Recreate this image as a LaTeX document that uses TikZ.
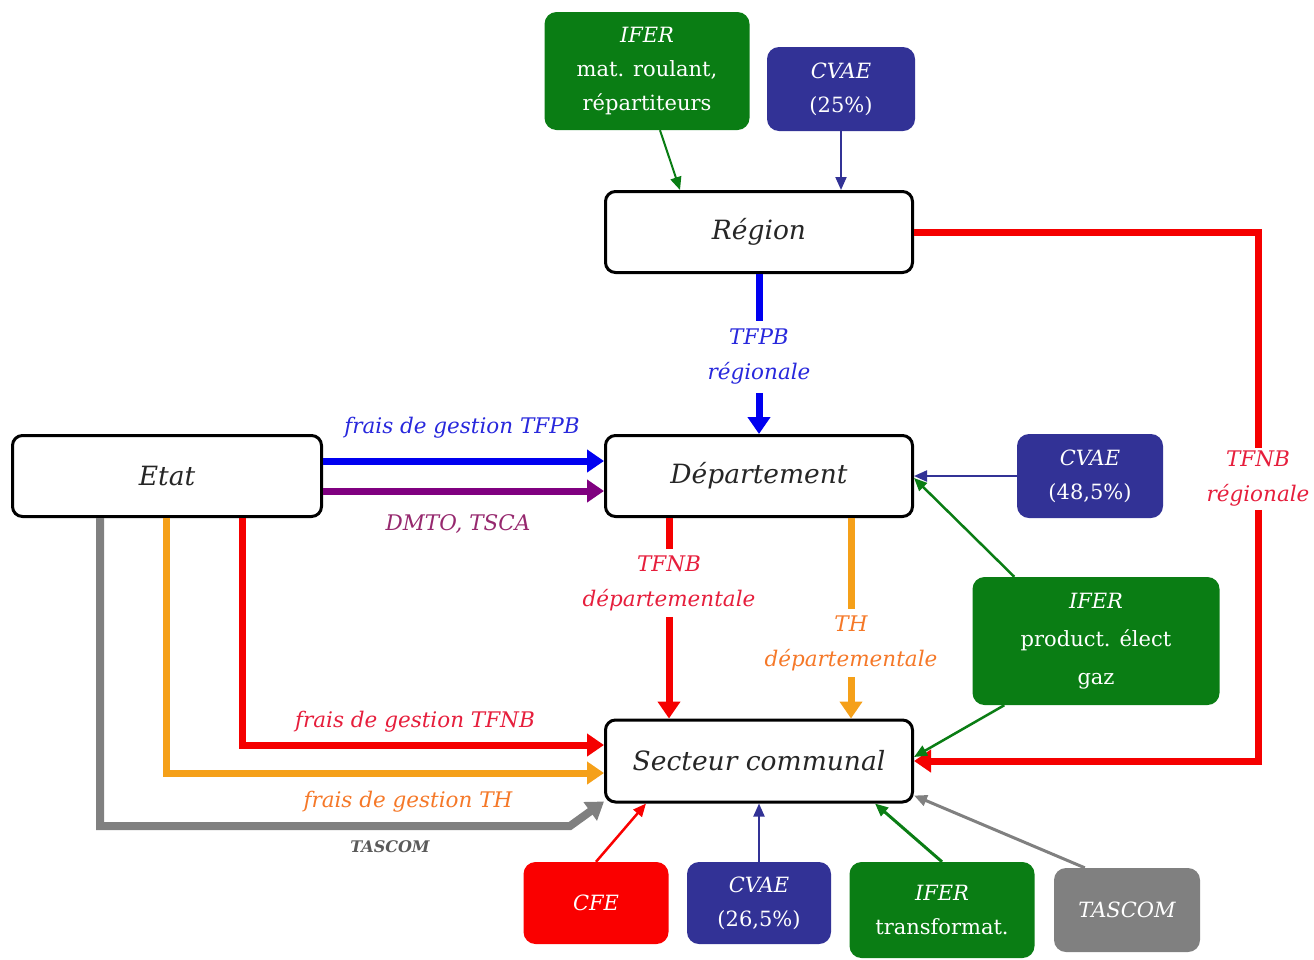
\documentclass[tikz,border=0pt]{standalone}
\usepackage{fontspec}
\setmainfont{DejaVu Serif}
\usepackage{tikz}
\usetikzlibrary{arrows.meta}
\usetikzlibrary{positioning}
\usepackage{color}
\definecolor{ifergreen}{RGB}{10, 125, 20}
\definecolor{cvaeblue}{RGB}{50, 50, 150}
\definecolor{cferred}{RGB}{250, 0, 0}
\definecolor{tascgrey}{RGB}{128, 128, 128}
\definecolor{tfpbblue}{RGB}{0, 0, 240}
\definecolor{dmtopurple}{RGB}{128, 0, 128}
\definecolor{tfnbred}{RGB}{245, 0, 0}
\definecolor{thorange}{RGB}{245, 160, 25}
\definecolor{tfpbtext}{RGB}{40, 40, 220}
\definecolor{dmtotext}{RGB}{150, 40, 110}
\definecolor{tfnbtext}{RGB}{230, 30, 60}
\definecolor{thtext}{RGB}{245, 120, 40}
\definecolor{tasctext}{RGB}{90, 90, 90}

\tikzset{
  mainbox/.style={draw=black, line width=3pt, rounded corners=10pt, fill=white,
    minimum width=307pt, minimum height=81pt, text={black!85},
    font=\fontsize{26.5}{30}\selectfont\itshape},
  srcbox/.style={rounded corners=12pt, text=white, align=center, inner sep=0pt,
    font=\fontsize{21}{34}\selectfont},
  bigline/.style={line width=7pt},
  bigarrow/.style={line width=7pt, -{Triangle[length=17pt,width=22pt]}},
  thinarrow/.style={line width=2pt, -{Triangle[length=13pt,width=11pt]}},
  flowlabel/.style={align=center, inner sep=6pt, font=\fontsize{21.5}{35}\selectfont\itshape},
}

\begin{document}
\begin{tikzpicture}[x=1pt,y=-1pt]
\useasboundingbox (0,0) rectangle (1314,959);
% collectivites
\node[mainbox]                                  (region) at (759,232) {Région};
\node[mainbox]                                  (dep)    at (759,476) {Département};
\node[mainbox, minimum width=309pt]             (etat)   at (167,476) {Etat};
\node[mainbox, minimum height=82pt]             (sect)   at (759,761) {Secteur communal};
% impots
\node[srcbox, fill=ifergreen, minimum width=205pt, minimum height=118pt] (ifermat)  at (647,71)  {\textit{IFER}\\mat. roulant,\\répartiteurs};
\node[srcbox, fill=cvaeblue,  minimum width=148pt, minimum height=84pt]  (cvaereg)  at (841,89)  {\itshape CVAE\\(25\%)};
\node[srcbox, fill=cvaeblue,  minimum width=146pt, minimum height=84pt]  (cvaedep)  at (1090,476) {\itshape CVAE\\(48,5\%)};
\node[srcbox, fill=ifergreen, minimum width=247pt, minimum height=128pt, font=\fontsize{21}{38}\selectfont] (iferprod) at (1096,641) {\textit{IFER}\\product. élect\\gaz};
\node[srcbox, fill=cferred,   minimum width=145pt, minimum height=82pt]  (cfe)      at (596,903) {\itshape CFE};
\node[srcbox, fill=cvaeblue,  minimum width=144pt, minimum height=82pt]  (cvaecom)  at (759,903) {\itshape CVAE\\(26,5\%)};
\node[srcbox, fill=ifergreen, minimum width=185pt, minimum height=96pt]  (ifertrans) at (942,910) {\textit{IFER}\\transformat.};
\node[srcbox, fill=tascgrey,  minimum width=146pt, minimum height=84pt]  (tascbox)  at (1127,910) {\itshape TASCOM};

% etiquettes des flux
\node[flowlabel, text=tfpbtext, inner sep=8pt] (tfpbreg) at (759,357)  {TFPB\\régionale};
\node[flowlabel, text=tfnbtext, inner sep=3pt] (tfnbreg) at (1258,479) {TFNB\\régionale};
\node[flowlabel, text=tfnbtext, inner sep=6pt] (tfnbdep) at (669,583)  {TFNB\\départementale};
\node[flowlabel, text=thtext,   inner sep=6pt] (thdep)   at (851,643)  {TH\\départementale};
\node[flowlabel, text=tfpbtext]  (lblfgtfpb) at (462,428) {frais de gestion TFPB};
\node[flowlabel, text=dmtotext]  (lbldmto)   at (458,524) {DMTO, TSCA};
\node[flowlabel, text=tfnbtext]  (lblfgtfnb) at (415,722) {frais de gestion TFNB};
\node[flowlabel, text=thtext]    (lblfgth)   at (408,802) {frais de gestion TH};
\node[flowlabel, text=tasctext, font=\fontsize{16}{18}\selectfont\itshape\bfseries] (lbltasc) at (390,847) {TASCOM};
\coordinate (tascbend) at (570,826);

% region
\draw[thinarrow, ifergreen] ([xshift=13pt]ifermat.south) -- ([xshift=-79pt]region.north);
\draw[thinarrow, cvaeblue]  (cvaereg) -- (cvaereg |- region.north);
\draw[bigline, tfpbblue]    (region) -- (tfpbreg);
\draw[bigarrow, tfpbblue]   (tfpbreg) -- (dep);
\draw[bigline, tfnbred]     (region.east) -| (tfnbreg);
\draw[bigarrow, tfnbred]    (tfnbreg) |- (sect.east);
% departement
\draw[bigarrow, tfpbblue]   ([yshift=15pt]etat.east) -- ([yshift=15pt]dep.west);
\draw[bigarrow, dmtopurple] ([yshift=-15pt]etat.east) -- ([yshift=-15pt]dep.west);
\draw[thinarrow, cvaeblue]  (cvaedep) -- (dep);
\draw[thinarrow, ifergreen, line width=2.5pt] ([xshift=42pt]iferprod.north west) -- ([yshift=-2pt]dep.east);
\draw[bigline, tfnbred]     (tfnbdep |- dep.south) -- (tfnbdep);
\draw[bigarrow, tfnbred]    (tfnbdep) -- (tfnbdep |- sect.north);
\draw[bigline, thorange]    (thdep |- dep.south) -- (thdep);
\draw[bigarrow, thorange]   (thdep) -- (thdep |- sect.north);
% secteur communal
\draw[bigarrow, tfnbred]    ([xshift=75pt]etat.south) |- ([yshift=16pt]sect.west);
\draw[bigarrow, thorange]   ([xshift=-1pt]etat.south) |- ([yshift=-12pt]sect.west);
\draw[bigarrow, tascgrey, line width=8pt] ([xshift=-67pt]etat.south) |- (tascbend) -- ([yshift=2pt]sect.south west);
\draw[thinarrow, ifergreen, line width=2.5pt] ([xshift=32pt]iferprod.south west) -- ([yshift=4pt]sect.east);
\draw[thinarrow, cferred, line width=2.5pt]   (cfe.north) -- ([xshift=-113pt]sect.south);
\draw[thinarrow, cvaeblue]  (cvaecom) -- (sect);
\draw[thinarrow, ifergreen, line width=3pt] (ifertrans.north) -- ([xshift=116pt]sect.south);
\draw[thinarrow, tascgrey, line width=3pt]  ([xshift=31pt]tascbox.north west) -- ([yshift=8pt]sect.south east);
\end{tikzpicture}
\end{document}
